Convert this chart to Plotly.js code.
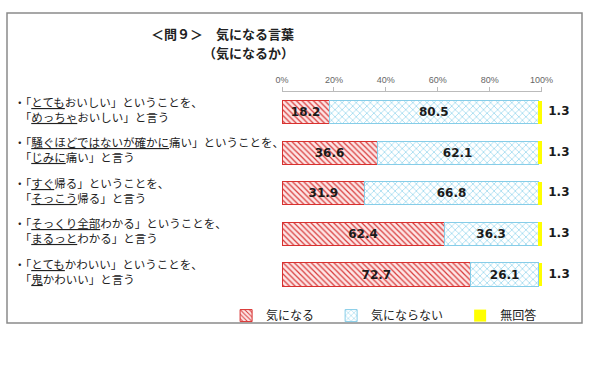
<!DOCTYPE html>
<html><head><meta charset="utf-8">
<script src="https://cdn.plot.ly/plotly-3.0.1.min.js"></script>
<style>html,body{margin:0;padding:0;background:#fff}</style>
</head><body><div id="chart" style="width:594px;height:387px"></div>
<script>
const categories = ['q1','q2','q3','q4','q5'];
const labels = [
  '・「<u>とても</u>おいしい」ということを、<br>　「<u>めっちゃ</u>おいしい」と言う',
  '・「<u>騒ぐほどではないが確かに</u>痛い」ということを、<br>　「<u>じみに</u>痛い」と言う',
  '・「<u>すぐ</u>帰る」ということを、<br>　「<u>そっこう</u>帰る」と言う',
  '・「<u>そっくり全部</u>わかる」ということを、<br>　「<u>まるっと</u>わかる」と言う',
  '・「<u>とても</u>かわいい」ということを、<br>　「<u>鬼</u>かわいい」と言う'
];
const seriesNames = ['気になる　','気にならない　','無回答'];
const kininaru = [18.2, 36.6, 31.9, 62.4, 72.7];
const kininaranai = [80.5, 62.1, 66.8, 36.3, 26.1];
const mukaitou = [1.3, 1.3, 1.3, 1.3, 1.3];
const tickVals = [0,20,40,60,80,100];
const tickText = ['0%','20%','40%','60%','80%','100%'];
const titleLine1 = '＜問９＞　気になる言葉';
const titleLine2 = '（気になるか）';

const valFont = {family:'DejaVu Sans, Verdana, sans-serif', size:12, color:'#1a1a1a', weight:'bold'};
const fmt = v => v.toFixed(1);
const totals = categories.map((c,i)=>kininaru[i]+kininaranai[i]+mukaitou[i]);

const traces = [
  {type:'bar', orientation:'h', name:seriesNames[0], y:categories, x:kininaru,
   text:kininaru.map(fmt), textposition:'inside', insidetextanchor:'middle', textfont:valFont,
   marker:{color:'#fbe3e3', line:{color:'#d8312f', width:1},
     pattern:{shape:'\\', fgcolor:'#d83a3a', bgcolor:'#fde6e6', size:4, solidity:0.3}}},
  {type:'bar', orientation:'h', name:seriesNames[1], y:categories, x:kininaranai,
   text:kininaranai.map(fmt), textposition:'inside', insidetextanchor:'middle', textfont:valFont,
   marker:{color:'#ffffff', line:{color:'#86cde8', width:1},
     pattern:{shape:'x', fgcolor:'#8fd3ec', bgcolor:'#ffffff', size:5, solidity:0.25}}},
  {type:'bar', orientation:'h', name:seriesNames[2], y:categories, x:mukaitou,
   textposition:'none', cliponaxis:false,
   marker:{color:'#ffff00', line:{width:0}}},
  {type:'scatter', mode:'markers+text', showlegend:false, y:categories, x:totals,
   marker:{size:9, color:'rgba(0,0,0,0)'},
   text:mukaitou.map(fmt), textposition:'middle right', textfont:valFont, cliponaxis:false}
];

const jpFont = 'Noto Sans CJK JP, sans-serif';
const annotations = labels.map((t,i)=>({
  xref:'paper', yref:'y', x:(12-282)/260, y:categories[i], xanchor:'left', yanchor:'middle',
  text:t, showarrow:false, align:'left', yshift:3,
  font:{family:jpFont, size:11.5, color:'#222'}
}));
annotations.push({xref:'paper', yref:'paper', x:-0.23, y:1.0+(92-33)/203, xanchor:'center', yanchor:'middle',
  text:'<b>'+titleLine1+'</b>', showarrow:false, font:{family:jpFont, size:13, color:'#222'}});
annotations.push({xref:'paper', yref:'paper', x:-0.13, y:1.0+(92-52)/203, xanchor:'center', yanchor:'middle',
  text:'<b>'+titleLine2+'</b>', showarrow:false, font:{family:jpFont, size:13, color:'#222'}});

const layout = {
  width:594, height:387,
  margin:{l:282, r:52, t:92, b:92},
  paper_bgcolor:'#fff', plot_bgcolor:'#fff',
  barmode:'stack', bargap:0.43,
  showlegend:true,
  legend:{orientation:'h', x:-0.215, y:-0.03, xanchor:'left', yanchor:'top', bgcolor:'rgba(0,0,0,0)',
    font:{family:jpFont, size:12, color:'#222'}, itemwidth:30, traceorder:'normal'},
  xaxis:{range:[0,100.15], side:'top', tickvals:tickVals, ticktext:tickText,
    showgrid:false, zeroline:false, showline:true, linecolor:'#bbbbbb', linewidth:1,
    ticks:'outside', ticklen:4, tickcolor:'#bbbbbb',
    tickfont:{family:'Liberation Sans, Arial, sans-serif', size:9, color:'#666'}},
  yaxis:{type:'category', categoryorder:'array', categoryarray:categories, autorange:'reversed',
    showticklabels:false, showgrid:false, zeroline:false, showline:false, ticks:''},
  annotations:annotations,
  shapes:[{type:'rect', xref:'paper', yref:'paper',
    x0:(7-282)/260, x1:(582-282)/260, y0:-(323-295)/203, y1:1+(92-13)/203,
    line:{color:'#8a8a8a', width:1.5}, fillcolor:'rgba(0,0,0,0)', layer:'below'}]
};

Plotly.newPlot('chart', traces, layout, {displayModeBar:false, staticPlot:true});
</script></body></html>
